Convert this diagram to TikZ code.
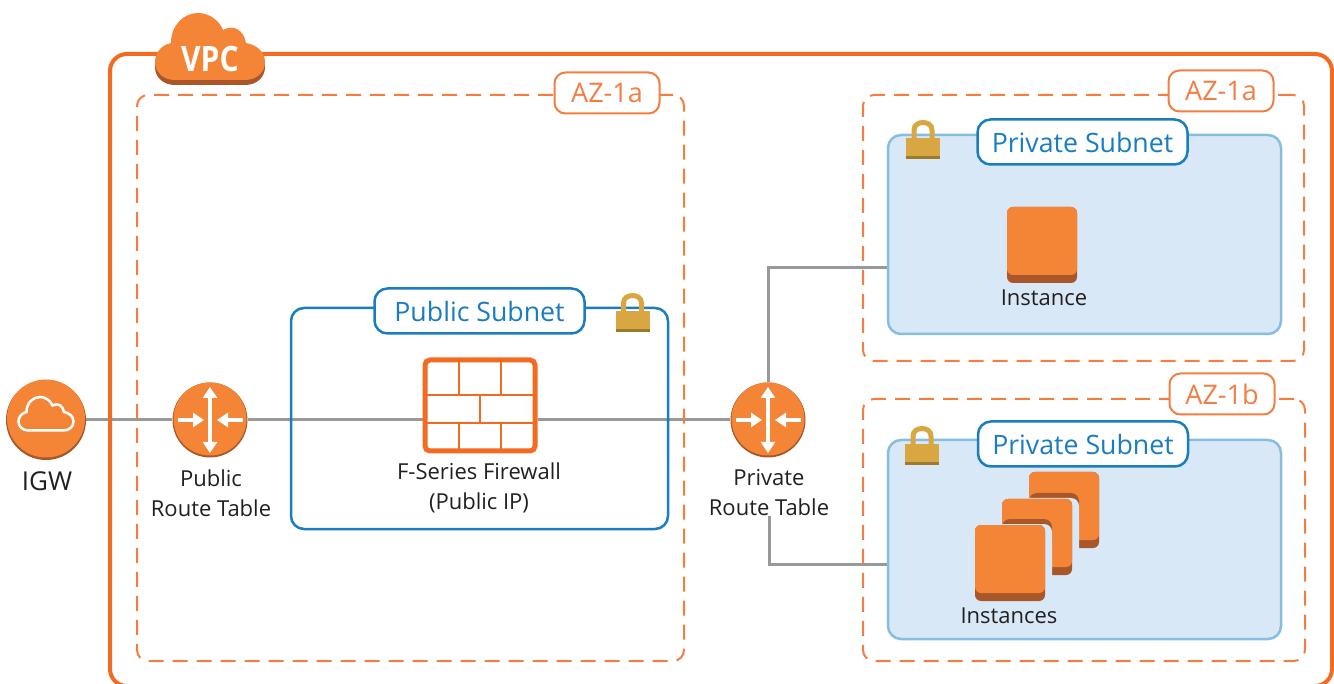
\documentclass[tikz,border=0pt]{standalone}
\usepackage{fontspec}
\setmainfont{Open Sans}
\usetikzlibrary{arrows.meta, backgrounds, positioning}
\definecolor{vpcorange}{HTML}{F26B21}
\definecolor{dashorange}{HTML}{F47E42}
\definecolor{awsorange}{HTML}{F58536}
\definecolor{awsdark}{HTML}{A9572A}
\definecolor{subblue}{HTML}{1A7DC0}
\definecolor{subpale}{HTML}{85BDE3}
\definecolor{subfill}{HTML}{D9E8F7}
\definecolor{lockgold}{HTML}{D9A741}
\definecolor{lockdark}{HTML}{9C7A2E}
\definecolor{routegrey}{HTML}{999999}
\definecolor{labelblack}{HTML}{231F20}
\tikzset{
    azbox/.style={draw=dashorange, line width=2pt, rounded corners=11pt,
        dash pattern=on 15pt off 9pt, anchor=north west, inner sep=0pt, outer sep=0pt},
    aztag/.style={draw=dashorange, line width=2pt, rounded corners=11pt, fill=white,
        minimum width=105pt, minimum height=41pt, inner sep=0pt,
        text=dashorange, font=\fontsize{27}{30}\selectfont},
    subtag/.style={draw=subblue, line width=2.5pt, rounded corners=13pt, fill=white,
        minimum width=210pt, minimum height=45pt, inner sep=0pt,
        text=subblue, font=\fontsize{26.7}{30}\selectfont},
    privsub/.style={draw=subpale, line width=2.5pt, rounded corners=13pt, fill=subfill,
        minimum width=393pt, minimum height=199pt, anchor=north west, inner sep=0pt, outer sep=0pt},
    darkdisc/.style={circle, fill=awsdark, inner sep=0pt},
    facedisc/.style={circle, fill=awsorange, inner sep=0pt},
    blacklabel/.style={align=center, text=labelblack, inner sep=0pt,
        font=\fontsize{22}{30}\selectfont},
    routeline/.style={draw=routegrey, line width=3pt},
    flowarrow/.style={draw=white, line width=3.5pt,
        -{Triangle[length=11pt,width=14pt]}},
    pics/cloudshape/.style={code={
        \path[pic actions] (-35,33) .. controls (-47,33) and (-55,25) .. (-55,15)
            .. controls (-55,5) and (-48,-2) .. (-39,-4)
            .. controls (-39,-22) and (-26,-34) .. (-12,-34)
            .. controls (-1,-34) and (9,-27) .. (13,-17)
            .. controls (23,-23) and (34,-17) .. (36,-4)
            .. controls (47,-2) and (55,5) .. (55,15)
            .. controls (55,25) and (47,33) .. (35,33) -- cycle;
    }},
    pics/lockshape/.style={code={
        \draw[lockgold, line width=5pt] (-9,-2) -- (-9,-10)
            .. controls (-9,-20) and (9,-20) .. (9,-10) -- (9,-2);
        \fill[lockdark] (-17,-2) rectangle (17,19);
        \fill[lockgold] (-17,-2) rectangle (17,16);
    }},
    pics/instbox/.style={code={
        \fill[awsdark, rounded corners=6pt] (-35,-38) rectangle (35,38);
        \fill[awsorange, rounded corners=6pt] (-35,-38) rectangle (35,30);
    }},
    pics/instgap/.style={code={
        \fill[awsdark, rounded corners=8pt] (-8,-44) -| (42,-10) -- (-8,-10) -- cycle;
        \fill[subfill, rounded corners=8pt] (-37,-39) -| (42,40) -- (-37,40) -- cycle;
    }},
}
\begin{document}
\begin{tikzpicture}[x=1pt, y=-1pt]
\useasboundingbox (0,0) rectangle (1334,684);
% outer boxes
\begin{scope}
\clip (0,0) rectangle (1334,684);
\draw[vpcorange, line width=4pt, rounded corners=17pt] (110,54) rectangle (1332,686);
\end{scope}
\node[azbox, minimum width=547pt, minimum height=566pt] (azleft) at (137,95) {};
\node[azbox, minimum width=441pt, minimum height=266pt] (aztop) at (863,95) {};
\node[azbox, minimum width=442pt, minimum height=262pt] (azbottom) at (863,399) {};
\node[aztag] (azlefttag) at (607,93) {AZ-1a};
\node[aztag] (aztoptag) at (1221,91) {AZ-1a};
\node[aztag] (azbottomtag) at (1222,394) {AZ-1b};
% vpc cloud
\pic[fill=awsdark] at (210,52) {cloudshape};
\pic[fill=awsorange] at (210,47) {cloudshape};
\node[text=white, xscale=.86, font=\fontsize{35}{35}\selectfont\bfseries] (vpclabel) at (210,59) {VPC};
% subnets
\node[draw=subblue, line width=2.5pt, rounded corners=13pt, minimum width=377pt,
    minimum height=221pt, anchor=north west, inner sep=0pt, outer sep=0pt] (pubsub) at (291,308) {};
\node[privsub] (privsubtop) at (888,135) {};
\node[privsub] (privsubbottom) at (888,440) {};
\node[subtag] (pubtag) at (479.5,311) {Public Subnet};
\node[subtag] (privtagtop) at (1082.5,142) {Private Subnet};
\node[subtag] (privtagbottom) at (1083,444) {Private Subnet};
\pic at (632.5,313) {lockshape};
\pic at (923,140) {lockshape};
\pic at (922,446) {lockshape};
% gateway and route tables
\node[darkdisc, minimum size=80pt] (igw) at (46,420) {};
\node[facedisc, minimum size=78pt] (igwface) at (46,418.5) {};
\pic[draw=white, line width=2.5pt, scale=.5] at (46,414) {cloudshape};
\foreach \rt/\px in {pubrt/210, privrt/768}{
    \node[darkdisc, minimum size=75pt] (\rt) at (\px,420) {};
    \node[facedisc, minimum size=73pt] (\rt face) at (\px,419) {};
    \draw[flowarrow, {Triangle[length=11pt,width=14pt]}-{Triangle[length=11pt,width=14pt]}]
        (\px,387) -- (\px,453);
    \draw[flowarrow] (\px-32,420) -- (\px-6,420);
    \draw[flowarrow] (\px+33,420) -- (\px+7,420);
}
\node[blacklabel, font=\fontsize{26}{30}\selectfont] (igwlabel) at (47,481) {IGW};
\node[blacklabel] (publabel) at (211,493) {Public\\Route Table};
\node[blacklabel] (privlabel) at (769,493) {Private\\Route Table};
% firewall
\node[draw=vpcorange, fill=white, line width=5pt, rounded corners=5pt,
    minimum width=110pt, minimum height=91pt, inner sep=0pt] (fw) at (480,405.5) {};
\draw[vpcorange, line width=2.5pt]
    (426,395) -- (534,395) (426,423) -- (534,423)
    (459,361) -- (459,395) (501,361) -- (501,395)
    (480,395) -- (480,423)
    (459,423) -- (459,450) (501,423) -- (501,450);
\node[blacklabel] (fwlabel) at (479,488) {F-Series Firewall\\(Public IP)};
% instances
\pic at (1042,245) {instbox};
\node[blacklabel] (instlabel) at (1044,298) {Instance};
\pic at (1064,510) {instbox};
\pic at (1037,537) {instgap};
\pic at (1037,537) {instbox};
\pic at (1010,563) {instgap};
\pic at (1010,563) {instbox};
\node[blacklabel] (instslabel) at (1009,616) {Instances};
% connectors
\coordinate (privtopin) at (privsubtop.west |- 0,268);
\coordinate (privbottomin) at (privsubbottom.west |- 0,564);
\begin{pgfonlayer}{background}
\draw[routeline] (igw) -- (pubrt) -- (pubrt -| fw.west);
\draw[routeline] (pubrt -| fw.east) -- (privrt);
\draw[routeline] (privrt) |- (privtopin);
\draw[routeline] (privlabel.south) |- (privbottomin);
\end{pgfonlayer}
\end{tikzpicture}
\end{document}
